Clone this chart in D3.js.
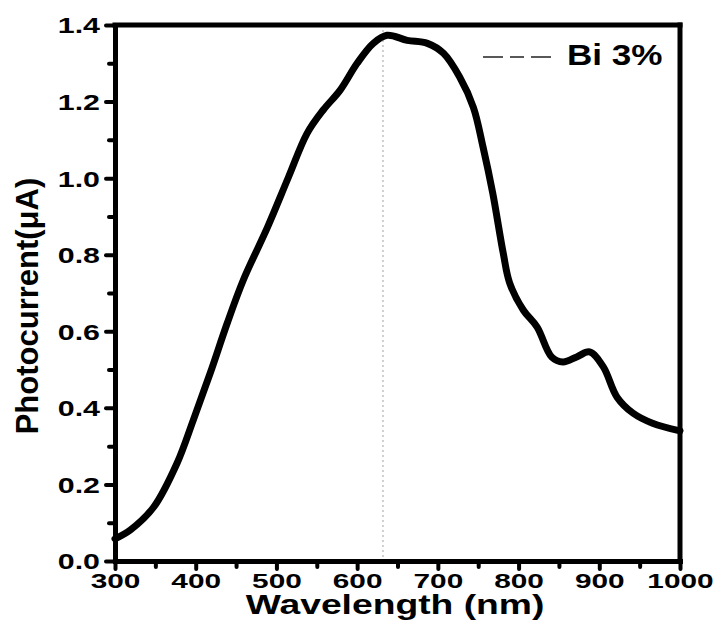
<!DOCTYPE html>
<html>
<head>
<meta charset="utf-8">
<script src="https://cdn.jsdelivr.net/npm/d3@7"></script>
<style>
  html, body { margin: 0; padding: 0; background: #fff; }
  svg { display: block; }
  text { font-family: "Liberation Sans", Arial, sans-serif; font-weight: bold; fill: #000; }
</style>
</head>
<body>
<svg id="chart" width="717" height="632"></svg>
<script>
// ---- data ----
const wavelength = [300, 319, 348, 377, 397, 418, 439, 459, 489, 515, 538, 558, 579, 600, 620, 637, 662, 687, 707, 727, 744, 756, 768, 781, 789, 806, 823, 841, 855, 872, 888, 905, 922, 942, 966, 1000];
const photocurrent = [0.058, 0.081, 0.141, 0.256, 0.368, 0.491, 0.621, 0.734, 0.872, 1.003, 1.117, 1.178, 1.230, 1.300, 1.352, 1.373, 1.360, 1.352, 1.326, 1.264, 1.185, 1.081, 0.961, 0.804, 0.726, 0.655, 0.611, 0.533, 0.520, 0.533, 0.546, 0.507, 0.428, 0.386, 0.360, 0.340];
const xTicks = [300, 400, 500, 600, 700, 800, 900, 1000];
const xMinorTicks = [350, 450, 550, 650, 750, 850, 950];
const yTicks = [0.0, 0.2, 0.4, 0.6, 0.8, 1.0, 1.2, 1.4];
const yMinorTicks = [0.1, 0.3, 0.5, 0.7, 0.9, 1.1, 1.3];
const peakLine = [632];
const legendLabel = ["Bi 3%"];
const xTitle = "Wavelength (nm)";
const yTitle = "Photocurrent(\u03BCA)";

// ---- layout ----
const L = 115, R = 680, T = 25, B = 561;
const svg = d3.select("#chart");
const x = d3.scaleLinear().domain([300, 1000]).range([L, R]);
const y = d3.scaleLinear().domain([0, 1.4]).range([B, T]);

// dotted vertical line at peak
svg.selectAll("line.peak").data(peakLine).enter().append("line")
  .attr("class", "peak")
  .attr("x1", d => x(d)).attr("x2", d => x(d))
  .attr("y1", T).attr("y2", B)
  .attr("stroke", "#b0b0b0").attr("stroke-width", 1.2)
  .attr("stroke-dasharray", "2,3");

// curve
const pts = wavelength.map((w, i) => [w, photocurrent[i]]);
const line = d3.line().x(d => x(d[0])).y(d => y(d[1])).curve(d3.curveCatmullRom.alpha(0.5));
svg.append("path").datum(pts)
  .attr("d", line)
  .attr("fill", "none").attr("stroke", "#000")
  .attr("stroke-width", 7).attr("stroke-linejoin", "round").attr("stroke-linecap", "round");

// frame (top & right)
svg.append("line").attr("x1", L).attr("x2", R).attr("y1", T).attr("y2", T)
  .attr("stroke", "#000").attr("stroke-width", 5).attr("stroke-linecap", "square");
svg.append("line").attr("x1", R).attr("x2", R).attr("y1", T).attr("y2", B)
  .attr("stroke", "#000").attr("stroke-width", 5).attr("stroke-linecap", "square");

// minor ticks
const xMinor = svg.append("g").attr("transform", `translate(0,${B})`)
  .call(d3.axisBottom(x).tickValues(xMinorTicks).tickSize(6).tickSizeOuter(0).tickFormat(""));
const yMinor = svg.append("g").attr("transform", `translate(${L},0)`)
  .call(d3.axisLeft(y).tickValues(yMinorTicks).tickSize(6).tickSizeOuter(0).tickFormat(""));
[xMinor, yMinor].forEach(g => {
  g.select(".domain").remove();
  g.selectAll(".tick line").attr("stroke", "#000").attr("stroke-width", 4).attr("stroke-linecap", "round");
});

// major axes
const xAxis = svg.append("g").attr("transform", `translate(0,${B})`)
  .call(d3.axisBottom(x).tickValues(xTicks).tickSize(8).tickSizeOuter(0).tickFormat(d3.format("d")));
const yAxis = svg.append("g").attr("transform", `translate(${L},0)`)
  .call(d3.axisLeft(y).tickValues(yTicks).tickSize(9).tickSizeOuter(0).tickFormat(d3.format(".1f")));
[xAxis, yAxis].forEach(g => {
  g.select(".domain").attr("stroke", "#000").attr("stroke-width", 5).attr("stroke-linecap", "square");
  g.selectAll(".tick line").attr("stroke", "#000").attr("stroke-width", 4).attr("stroke-linecap", "round");
  g.selectAll(".tick text").attr("font-family", "Liberation Sans, Arial, sans-serif")
    .attr("font-weight", "bold").attr("font-size", 21).attr("fill", "#000");
});
xAxis.selectAll(".tick text").attr("y", 27).attr("dy", 0)
  .attr("transform", "scale(1.42,1)");
yAxis.selectAll(".tick text").attr("font-size", 22).attr("x", -15 / 1.38).attr("dy", "0.36em")
  .attr("transform", "scale(1.38,1)");

// axis titles
svg.append("text")
  .attr("transform", `translate(395,614) scale(1.38,1)`)
  .attr("text-anchor", "middle").attr("font-size", 27)
  .text(xTitle);
svg.append("text")
  .attr("transform", `translate(38,306) rotate(-90)`)
  .attr("text-anchor", "middle").attr("font-size", 31)
  .text(yTitle);

// legend
svg.append("line").attr("x1", 483).attr("x2", 557).attr("y1", 57).attr("y2", 57)
  .attr("stroke", "#222").attr("stroke-width", 1.5).attr("stroke-dasharray", "20,7,14,7");
svg.selectAll("text.legend").data(legendLabel).enter().append("text")
  .attr("class", "legend")
  .attr("transform", "translate(567,65) scale(1.17,1)")
  .attr("font-size", 30)
  .text(d => d);
</script>
</body>
</html>
